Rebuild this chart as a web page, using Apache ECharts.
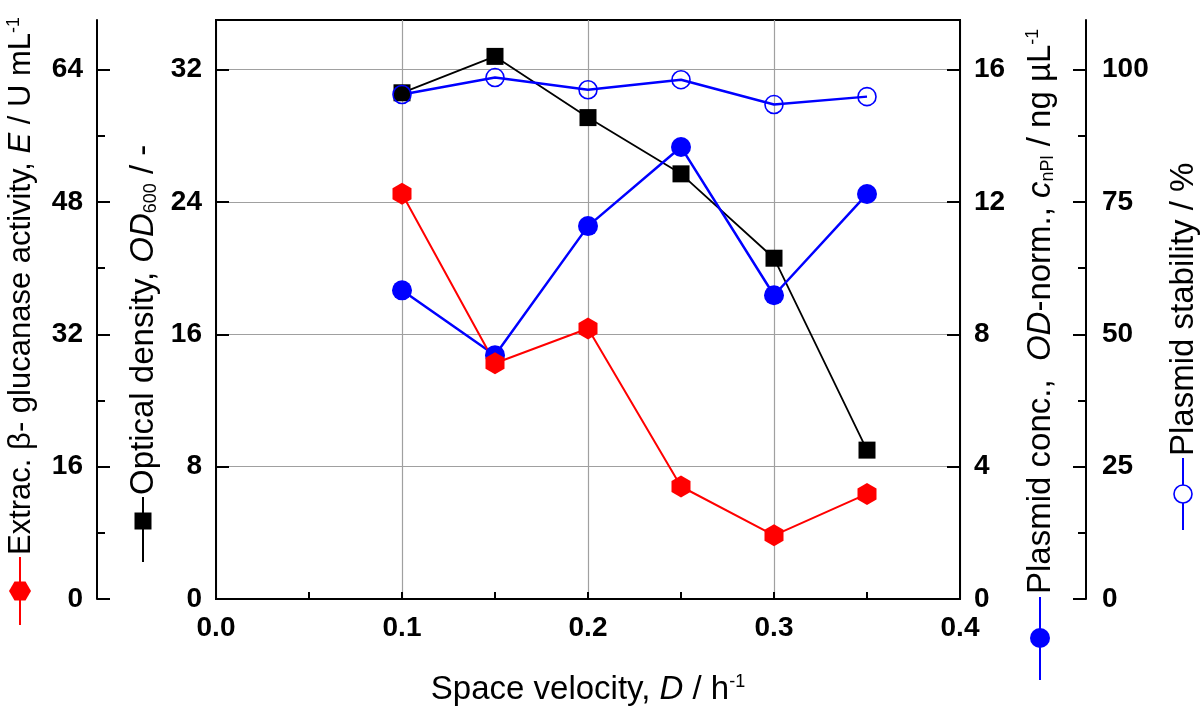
<!DOCTYPE html>
<html><head><meta charset="utf-8">
<script src="https://cdn.jsdelivr.net/npm/echarts@6/dist/echarts.min.js"></script>
<style>html,body{margin:0;padding:0;background:#fff}#c{width:1200px;height:709px}</style>
</head><body><div id="c"></div><script>
// ---- data ----
const velocity = [0.1, 0.15, 0.2, 0.25, 0.3, 0.35];
const glucanase = [49.0, 28.5, 32.7, 13.6, 7.7, 12.7];          // E / U mL-1
const opticalDensity = [30.6, 32.8, 29.1, 25.7, 20.6, 9.0];     // OD600
const plasmidConc = [9.33, 7.37, 11.27, 13.66, 9.18, 12.24];    // cnPl / ng uL-1
const plasmidStability = [95.3, 98.5, 96.2, 98.1, 93.4, 94.9];  // %
const eTicks = [0, 16, 32, 48, 64];
const eMinorTicks = [8, 24, 40, 56];
const odTicks = [0, 8, 16, 24, 32];
const concTicks = [0, 4, 8, 12, 16];
const stabTicks = [0, 25, 50, 75, 100];
const stabMinorTicks = [12.5, 37.5, 62.5, 87.5];

const pairs = ys => velocity.map((x, i) => [x, ys[i]]);
const FONT = '"Liberation Sans", Arial, sans-serif';
const tickLabel = { fontFamily: FONT, fontSize: 28, fontWeight: 'bold', color: '#000', margin: 14 };
const axisLine = { show: true, onZero: false, lineStyle: { color: '#000', width: 2 } };
const hexPath = 'path://M0,-1 L0.866,-0.5 L0.866,0.5 L0,1 L-0.866,0.5 L-0.866,-0.5 Z';

function yAx(o) {
  return Object.assign({
    type: 'value', splitLine: { show: false },
    axisLine: axisLine,
    axisLabel: Object.assign({}, tickLabel)
  }, o);
}
function minorAx(o, vals) {
  return Object.assign({
    type: 'value', splitLine: { show: false },
    axisLine: { show: false, onZero: false },
    axisLabel: { show: false },
    axisTick: { show: true, inside: true, length: 8, customValues: vals, lineStyle: { color: '#000', width: 2 } }
  }, o);
}
function majorTick(vals) {
  return { show: true, inside: true, length: 13, customValues: vals, lineStyle: { color: '#000', width: 2 } };
}

const rich = {
  a: { fontFamily: FONT, fontSize: 33, color: '#000' },
  e: { fontFamily: FONT, fontSize: 31, color: '#000' },
  ei: { fontFamily: FONT, fontSize: 31, fontStyle: 'italic', color: '#000' },
  i: { fontFamily: FONT, fontSize: 33, fontStyle: 'italic', color: '#000' },
  sup: { fontFamily: FONT, fontSize: 18, color: '#000', verticalAlign: 'top' },
  sub: { fontFamily: FONT, fontSize: 18, color: '#000', verticalAlign: 'bottom' }
};
function vTitle(x, yStart, text) {
  return { type: 'text', x: x, y: yStart, rotation: Math.PI / 2,
    style: { text: text, rich: rich, fontFamily: FONT, fontSize: 33, fill: '#000',
      align: 'left', textAlign: 'left', verticalAlign: 'middle', textVerticalAlign: 'middle' } };
}
function vLine(x, y1, y2, color, w) {
  return { type: 'line', shape: { x1: x, y1: y1, x2: x, y2: y2 }, style: { stroke: color, lineWidth: w } };
}

const chart = echarts.init(document.getElementById('c'));
chart.setOption({
  animation: false,
  backgroundColor: '#fff',
  grid: { left: 216, right: 240, top: 20, bottom: 110, show: true, borderColor: '#000', borderWidth: 2, backgroundColor: 'transparent' },
  xAxis: {
    type: 'value', min: 0, max: 0.4, interval: 0.1,
    axisLine: axisLine,
    axisTick: { show: true, inside: true, length: 7, lineStyle: { color: '#000', width: 2 } },
    minorTick: { show: true, splitNumber: 2, length: 7, lineStyle: { color: '#000', width: 2 } },
    splitLine: { show: true, lineStyle: { color: '#a0a0a0', width: 1.2 } },
    axisLabel: Object.assign({}, tickLabel, { margin: 15, formatter: v => v.toFixed(1) })
  },
  yAxis: [
    yAx({ position: 'left', offset: 119, min: 0, max: 70, axisTick: majorTick(eTicks),
      axisLabel: Object.assign({}, tickLabel, { customValues: eTicks }) }),
    minorAx({ position: 'left', offset: 119, min: 0, max: 70 }, eMinorTicks),
    yAx({ position: 'left', offset: 0, min: 0, max: 35, axisTick: majorTick(odTicks),
      splitLine: { show: true, lineStyle: { color: '#a0a0a0', width: 1.2 } },
      axisLabel: Object.assign({}, tickLabel, { customValues: odTicks }) }),
    yAx({ position: 'right', offset: 0, min: 0, max: 17.5, axisTick: majorTick(concTicks),
      axisLabel: Object.assign({}, tickLabel, { customValues: concTicks }) }),
    yAx({ position: 'right', offset: 126, min: 0, max: 109.375, axisTick: majorTick(stabTicks),
      axisLabel: Object.assign({}, tickLabel, { customValues: stabTicks, margin: 16 }) }),
    minorAx({ position: 'right', offset: 126, min: 0, max: 109.375 }, stabMinorTicks)
  ],
  series: [
    { name: 'OD', type: 'line', yAxisIndex: 2, data: pairs(opticalDensity),
      symbol: 'rect', symbolSize: 17, lineStyle: { color: '#000', width: 1.8 },
      itemStyle: { color: '#000' } },
    { name: 'Stability', type: 'line', yAxisIndex: 4, data: pairs(plasmidStability),
      symbol: 'circle', symbolSize: 18, lineStyle: { color: '#0000ff', width: 2.5 },
      itemStyle: { color: 'rgba(0,0,0,0)', borderColor: '#0000ff', borderWidth: 1.6 } },
    { name: 'Conc', type: 'line', yAxisIndex: 3, data: pairs(plasmidConc),
      symbol: 'circle', symbolSize: 20, lineStyle: { color: '#0000ff', width: 2.5 },
      itemStyle: { color: '#0000ff' } },
    { name: 'E', type: 'line', yAxisIndex: 0, data: pairs(glucanase),
      symbol: hexPath, symbolSize: [19, 22], lineStyle: { color: '#ff0000', width: 2 },
      itemStyle: { color: '#ff0000' } }
  ],
  graphic: [
    // left: E title + legend
    vLine(20, 557, 625, '#ff0000', 2),
    { type: 'polygon', shape: { points: [[9, 591], [14.5, 581.5], [25.5, 581.5], [31, 591], [25.5, 600.5], [14.5, 600.5]] }, style: { fill: '#ff0000' } },
    vTitle(21, 555, '{e|Extrac. β- glucanase activity, }{ei|E}{e| / U mL}{sup|-1}'),
    // OD title + legend
    vLine(143, 497, 562, '#000', 2),
    { type: 'rect', shape: { x: 134.5, y: 512.5, width: 17, height: 17 }, style: { fill: '#000' } },
    vTitle(144, 495, '{a|Optical density, }{i|OD}{sub|600}{a| / -}'),
    // right: conc title + legend
    vLine(1040, 597, 680, '#0000ff', 2),
    { type: 'circle', shape: { cx: 1040, cy: 638, r: 10 }, style: { fill: '#0000ff' } },
    vTitle(1041, 594, '{a|Plasmid conc.,  }{i|OD}{a|-norm., }{i|c}{sub|nPl}{a| / ng µL}{sup|-1}'),
    // stability title + legend
    vLine(1183, 458, 530, '#0000ff', 2),
    { type: 'circle', shape: { cx: 1183, cy: 494, r: 9 }, style: { fill: '#fff', stroke: '#0000ff', lineWidth: 1.6 } },
    vTitle(1184, 456, '{a|Plasmid stability / %}'),
    // x title
    { type: 'text', x: 588, y: 690,
      style: { text: '{a|Space velocity, }{i|D}{a| / h}{sup|-1}', rich: rich, fontFamily: FONT, fontSize: 33, fill: '#000',
        align: 'center', textAlign: 'center', verticalAlign: 'middle', textVerticalAlign: 'middle' } }
  ]
});
</script></body></html>
